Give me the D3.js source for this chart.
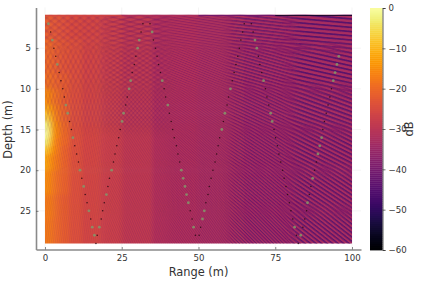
<!DOCTYPE html>
<html>
<head>
<meta charset="utf-8">
<script src="https://cdn.jsdelivr.net/npm/d3@7"></script>
<style>
  html, body { margin: 0; padding: 0; background: #fff; }
  svg { display: block; }
  text { font-family: "DejaVu Sans", sans-serif; fill: #333; }
</style>
</head>
<body>
<div id="chart"></div>
<script>
const width = 423;
const height = 282;

// Mean level, coarse cells (dB). The fine fringes can't be
// read value by value, so they are only a texture further down, not data.
const rangeEdges = [0, 1, 2, 3, 5, 8, 12, 18, 25, 35, 50, 65, 80, 100];
const depthEdges = [0.9, 4, 8, 10, 12, 13, 14, 15, 16, 17, 18, 20, 23, 26, 29];
const levels = [
  [-22, -22, -23, -23, -24, -25, -26, -27, -29, -31, -32, -33, -33],
  [-20, -20, -21, -22, -23, -24, -26, -27, -29, -31, -32, -33, -33],
  [-19, -19, -20, -21, -22, -24, -26, -27, -29, -31, -32, -33, -33],
  [-15, -16, -18, -19, -22, -24, -26, -27, -29, -31, -32, -33, -33],
  [-11, -13, -15, -18, -21, -24, -26, -27, -29, -31, -32, -33, -33],
  [-7, -9, -13, -17, -21, -24, -26, -27, -29, -31, -32, -33, -33],
  [-2, -6, -11, -16, -20, -24, -26, -27, -29, -31, -32, -33, -33],
  [0, -5, -11, -16, -20, -24, -26, -27, -29, -31, -32, -33, -33],
  [-3, -7, -12, -17, -20, -24, -26, -27, -29, -31, -32, -33, -33],
  [-8, -10, -14, -17, -21, -24, -26, -27, -29, -31, -32, -33, -33],
  [-12, -14, -16, -18, -21, -24, -26, -27, -29, -31, -32, -33, -33],
  [-15, -16, -17, -19, -21, -24, -26, -27, -29, -31, -32, -33, -33],
  [-17, -18, -18, -20, -22, -24, -26, -27, -29, -31, -32, -33, -33],
  [-18, -18, -19, -20, -22, -24, -26, -27, -29, -31, -32, -33, -33],
];

// Thin row right at the surface, darkens towards long range
const surfaceEdges = [0, 25, 50, 75, 100];
const surfaceLevels = [-26, -32, -42, -56];

// Receiver points, range (m) at each depth
const path1Start = 2;
const path1 = [1.1, 1.85, 2.4, 2.9, 3.5, 4, 4.6, 5.2, 5.8, 6.3, 6.8, 7.4, 8, 8.6, 9.1, 9.7, 10.3, 10.9, 11.4, 12, 12.6, 13.1, 13.7, 14.3, 14.9, 15.4, 16.1, 16.6];
const path1Marked = [2, 4, 7, 12, 13, 16, 20, 22, 25, 27, 28];
const path2Start = 2;
const path2 = [31.9, 31.3, 30.7, 30.2, 29.6, 29.1, 28.4, 27.9, 27.4, 26.8, 26.3, 25.6, 25.1, 24.5, 24, 23.4, 22.8, 22.3, 21.7, 21, 20.5, 20, 19.3, 18.8, 18.3, 17.7, 17];
const path2Marked = [4, 5, 9, 10, 13, 14, 20, 23, 27];
const path3Start = 2;
const path3 = [34.2, 34.9, 35.3, 36, 36.5, 37, 37.6, 38.2, 38.8, 39.3, 40, 40.5, 41.1, 41.6, 42.1, 42.8, 43.3, 43.9, 44.4, 45, 45.6, 46.1, 46.7, 47.3, 47.9, 48.4, 49];
const path3Marked = [3, 9, 12, 20, 21, 22, 23, 24, 27];
const path4Start = 2;
const path4 = [64.9, 64.4, 63.8, 63.3, 62.8, 62.2, 61.6, 61, 60.4, 59.8, 59.3, 58.6, 58.1, 57.6, 56.9, 56.4, 55.9, 55.4, 54.7, 54.1, 53.5, 53.1, 52.4, 51.9, 51.3, 50.7, 50.2];
const path4Marked = [10, 13, 15, 25, 26];
const path5Start = 2;
const path5 = [67.2, 67.8, 68.4, 69, 69.5, 70, 70.6, 71.2, 71.8, 72.3, 72.9, 73.5, 74, 74.6, 75.1, 75.7, 76.2, 76.8, 77.4, 77.9, 78.5, 79, 79.6, 80.1, 80.7, 81.3, 81.9];
const path5Marked = [4, 5, 9, 13, 14, 27];
const path6Start = 6;
const path6 = [95.7, 95.1, 94.5, 93.9, 93.3, 92.8, 92.2, 91.6, 91, 90.5, 90.1, 89.5, 88.9, 88.4, 87.8, 87.2, 86.6, 86.1, 85.5, 85.2, 84.6, 84, 83.3, 82.5];
const path6Marked = [6, 7, 8, 9, 16, 17, 18, 21, 24, 28];

const rangeTicks = [0, 25, 50, 75, 100];
const depthTicks = [5, 10, 15, 20, 25];
const dbTicks = [0, -10, -20, -30, -40, -50, -60];

const x = d3.scaleLinear().domain([-2.93, 102.93]).range([36, 361]);
const y = d3.scaleLinear().domain([0, 29.75]).range([7.5, 249.5]);
const dbY = d3.scaleLinear().domain([0, -60]).range([8, 250]);
const color = d3.scaleSequential(d3.interpolateInferno).domain([-60, 0]);

const svg = d3.select("#chart").append("svg")
  .attr("width", width)
  .attr("height", height);
const defs = svg.append("defs");

const heat = {
  left: x(0), right: x(100), top: y(depthEdges[0]), bottom: y(29),
};

defs.append("clipPath").attr("id", "heat-clip").append("rect")
  .attr("x", heat.left).attr("y", heat.top)
  .attr("width", heat.right - heat.left)
  .attr("height", heat.bottom - heat.top);

function addBlur(id, amount) {
  defs.append("filter").attr("id", id)
    .attr("filterUnits", "userSpaceOnUse")
    .attr("x", -40).attr("y", -40).attr("width", width + 80).attr("height", height + 80)
    .append("feGaussianBlur").attr("stdDeviation", amount);
}
addBlur("soft", 2.2);
addBlur("feather", 6);
addBlur("lens", 0.35);

const heatLayer = svg.append("g").attr("clip-path", "url(#heat-clip)");

// Coarse level cells, blurred together. Outer cells run past the clip so the blur
// doesn't fade at the edges.
const cells = levels.flatMap((row, j) => row.map((db, i) => ({ i, j, db })));
const bleed = 14;
heatLayer.append("g").attr("filter", "url(#soft)")
  .selectAll("rect")
  .data(cells)
  .join("rect")
  .attr("x", (d) => x(rangeEdges[d.i]) - (d.i === 0 ? bleed : 0))
  .attr("y", (d) => y(depthEdges[d.j]) - (d.j === 0 ? bleed : 0))
  .attr("width", (d) => x(rangeEdges[d.i + 1]) - x(rangeEdges[d.i]) + (d.i === 0 || d.i === levels[0].length - 1 ? bleed : 0) + 0.5)
  .attr("height", (d) => y(depthEdges[d.j + 1]) - y(depthEdges[d.j]) + (d.j === 0 || d.j === levels.length - 1 ? bleed : 0) + 0.5)
  .attr("fill", (d) => color(d.db));

// Fringe texture, by area: angle (deg), spacing (px), strength. Approximate, decoration only.
const bandX = [0, 20, 40, 60, 80, 100];
const bandY = [0.9, 5, 10, 15, 20, 25, 29];
const fringeAngle = [
  [38, 15, 9, 6.5, 5],
  [63, 33, 22, 16, 12.5],
  [73, 48, 33, 25, 20],
  [78, 57, 43, 33, 27],
  [80, 63, 50, 40, 33.5],
  [82, 67, 55, 45, 38],
];
const fringeGap = [
  [5.2, 4.5, 2.6, 3.3, 4.2],
  [4.5, 4, 2.2, 3.2, 4.2],
  [3.4, 3, 2, 3, 4],
  [2.2, 2, 1.9, 2.8, 3.8],
  [2, 2, 1.9, 2.6, 3.6],
  [2, 2, 1.9, 2.4, 3.4],
];
const fringeStrength = [0.1, 0.18, 0.32, 0.68, 0.86];

const textureLayer = heatLayer.append("g").attr("filter", "url(#lens)");
function addStripes(id, angle, gap, strength, box) {
  const p = defs.append("pattern").attr("id", id)
    .attr("patternUnits", "userSpaceOnUse")
    .attr("width", gap).attr("height", gap)
    .attr("patternTransform", `rotate(${angle})`);
  p.append("rect").attr("width", gap).attr("height", gap * 0.42)
    .attr("fill", color(-46)).attr("fill-opacity", strength);
  // feathered mask so neighbouring areas cross-fade rather than meet at a seam
  const m = defs.append("mask").attr("id", `m-${id}`)
    .attr("maskUnits", "userSpaceOnUse")
    .attr("x", 0).attr("y", 0).attr("width", width).attr("height", height);
  m.append("rect")
    .attr("x", box.x).attr("y", box.y)
    .attr("width", box.w).attr("height", box.h)
    .attr("fill", "#fff")
    .attr("filter", "url(#feather)");
  textureLayer.append("rect")
    .attr("x", 0).attr("y", 0)
    .attr("width", width).attr("height", height)
    .attr("fill", `url(#${id})`)
    .attr("mask", `url(#m-${id})`);
}
fringeAngle.forEach((row, j) => {
  row.forEach((angle, i) => {
    const x0 = x(bandX[i]) - (i === 0 ? bleed : 0);
    const x1 = x(bandX[i + 1]) + (i === row.length - 1 ? bleed : 0);
    const y0 = y(bandY[j]) - (j === 0 ? bleed : 0);
    const y1 = y(bandY[j + 1]) + (j === fringeAngle.length - 1 ? bleed : 0);
    const box = { x: x0, y: y0, w: x1 - x0, h: y1 - y0 };
    addStripes(`f${j}-${i}`, angle, fringeGap[j][i], fringeStrength[i], box);
    // upper left reads as a checker, so cross the stripes there
    if (i < 2 && j < 3) addStripes(`c${j}-${i}`, -angle, fringeGap[j][i], fringeStrength[i], box);
  });
});

heatLayer.append("g").selectAll("rect")
  .data(surfaceLevels)
  .join("rect")
  .attr("x", (d, i) => x(surfaceEdges[i]))
  .attr("y", y(depthEdges[0]))
  .attr("width", (d, i) => x(surfaceEdges[i + 1]) - x(surfaceEdges[i]))
  .attr("height", 1)
  .attr("fill", (d) => color(d));

// Axes
const xAxis = svg.append("g")
  .attr("transform", `translate(0, ${y.range()[1]})`)
  .call(d3.axisBottom(x).tickValues(rangeTicks).tickSizeInner(-2.5).tickSizeOuter(0).tickPadding(5));
const yAxis = svg.append("g")
  .attr("transform", `translate(${x.range()[0]}, 0)`)
  .call(d3.axisLeft(y).tickValues(depthTicks).tickSizeInner(-2.5).tickSizeOuter(0).tickPadding(5));

// faint grid is only visible in the margins around the heatmap
svg.insert("g", "g")
  .selectAll("line")
  .data(depthTicks)
  .join("line")
  .attr("x1", x.range()[0]).attr("x2", x.range()[1])
  .attr("y1", (d) => y(d)).attr("y2", (d) => y(d))
  .attr("stroke", "#eee").attr("stroke-width", 0.6);
svg.insert("g", "g")
  .selectAll("line")
  .data(rangeTicks)
  .join("line")
  .attr("y1", y.range()[0]).attr("y2", y.range()[1])
  .attr("x1", (d) => x(d)).attr("x2", (d) => x(d))
  .attr("stroke", "#eee").attr("stroke-width", 0.6);

[xAxis, yAxis].forEach((a) => {
  a.select(".domain").attr("stroke", "#8a8a8a").attr("stroke-width", 1.6);
  a.selectAll(".tick line").attr("stroke", "#555").attr("stroke-width", 0.7);
  a.selectAll("text").attr("font-size", 8.6).attr("font-family", "DejaVu Sans").attr("fill", "#333");
});

svg.append("text")
  .attr("x", x(50)).attr("y", 276)
  .attr("text-anchor", "middle")
  .attr("font-size", 11.4)
  .text("Range (m)");
svg.append("text")
  .attr("transform", `translate(12, ${y(15)}) rotate(-90)`)
  .attr("text-anchor", "middle")
  .attr("font-size", 11.4)
  .text("Depth (m)");

// Receiver dots
const paths = [
  [path1, path1Start, path1Marked],
  [path2, path2Start, path2Marked],
  [path3, path3Start, path3Marked],
  [path4, path4Start, path4Marked],
  [path5, path5Start, path5Marked],
  [path6, path6Start, path6Marked],
];
const points = paths.flatMap(([ranges, start, marked]) =>
  ranges.map((r, k) => {
    const depth = start + k;
    return { r, depth, marked: marked.includes(depth) };
  }));
svg.append("g").selectAll("circle")
  .data(points)
  .join("circle")
  .attr("cx", (d) => x(d.r))
  .attr("cy", (d) => y(d.depth))
  .attr("r", (d) => (d.marked ? 1.4 : 0.75))
  .attr("fill", (d) => (d.marked ? "#84966a" : "#2a0a12"))
  .attr("fill-opacity", (d) => (d.marked ? 0.85 : 0.9));

// Colour bar
const barLeft = 370;
const barRight = 382.5;
const barSteps = d3.range(-60, 0, 0.5);
svg.append("g").selectAll("rect")
  .data(barSteps)
  .join("rect")
  .attr("x", barLeft)
  .attr("y", (d) => dbY(d + 0.5))
  .attr("width", barRight - barLeft)
  .attr("height", (d) => dbY(d) - dbY(d + 0.5) + 0.4)
  .attr("fill", (d) => color(d));

const barAxis = svg.append("g")
  .attr("transform", `translate(${barRight}, 0)`)
  .call(d3.axisRight(dbY).tickValues(dbTicks).tickSize(3).tickPadding(3));
barAxis.select(".domain").attr("stroke", "#333").attr("stroke-width", 0.8);
barAxis.selectAll(".tick line").attr("stroke", "#333").attr("stroke-width", 0.7);
barAxis.selectAll("text").attr("font-size", 8.6).attr("font-family", "DejaVu Sans").attr("fill", "#333");

svg.append("text")
  .attr("transform", `translate(413, ${dbY(-30)}) rotate(-90)`)
  .attr("text-anchor", "middle")
  .attr("font-size", 11.4)
  .text("dB");
</script>
</body>
</html>
